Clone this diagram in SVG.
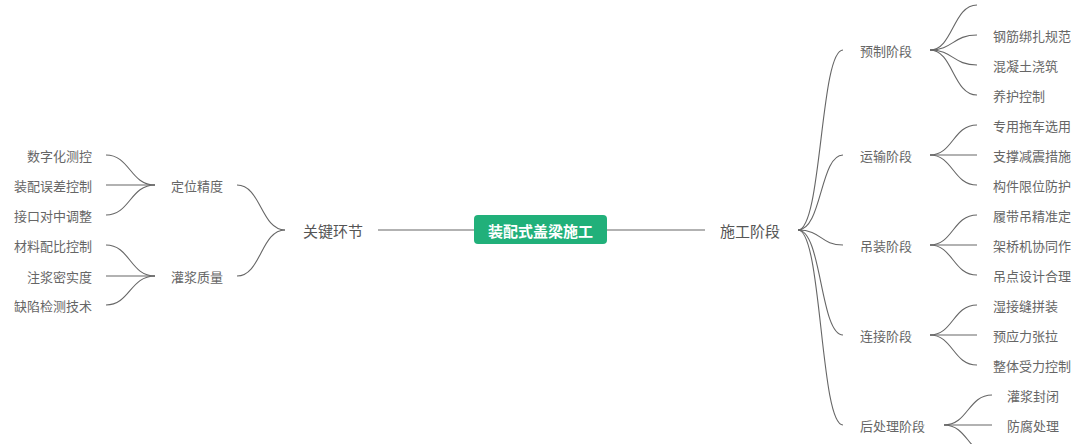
<svg xmlns="http://www.w3.org/2000/svg" width="1071" height="444" viewBox="0 0 1071 444">
<style>
.c{fill:none;stroke:#666;stroke-width:1.1}
.m{fill:none;stroke:#999;stroke-width:1.6}
text{font-family:"Noto Sans CJK SC","Liberation Sans",sans-serif;dominant-baseline:central}
.l1{font-size:15px;fill:#555}
.l2{font-size:13px;fill:#666}
.lf{font-size:13px;fill:#666}
.r{text-anchor:end}
.root{font-size:15px;fill:#fff;font-weight:bold;text-anchor:middle}
</style>
<rect width="1071" height="444" fill="#fff"/>
<g id="connectors">
<path class="m" d="M378,230H474"/>
<path class="m" d="M607,230H705"/>
<path class="c" d="M285,230C261,230 261,185 237,185"/>
<path class="c" d="M285,230C261,230 261,276 237,276"/>
<path class="c" d="M155,185C130,185 130,155 106,155"/>
<path class="c" d="M155,185H106"/>
<path class="c" d="M155,185C130,185 130,215 106,215"/>
<path class="c" d="M155,276C130,276 130,245 106,245"/>
<path class="c" d="M155,276H106"/>
<path class="c" d="M155,276C130,276 130,305 106,305"/>
<path class="c" d="M798,230C822,230 820,50 843,50"/>
<path class="c" d="M798,230C822,230 820,155 843,155"/>
<path class="c" d="M798,230C822,230 820,245 843,245"/>
<path class="c" d="M798,230C822,230 820,335 843,335"/>
<path class="c" d="M798,230C822,230 820,425 843,425"/>
<path class="c" d="M930,50C953,50 953,5 977,5"/>
<path class="c" d="M930,50C953,50 953,35 977,35"/>
<path class="c" d="M930,50C953,50 953,65 977,65"/>
<path class="c" d="M930,50C953,50 953,95 977,95"/>
<path class="c" d="M930,155C953,155 953,125 977,125"/>
<path class="c" d="M930,155H977"/>
<path class="c" d="M930,155C953,155 953,185 977,185"/>
<path class="c" d="M930,245C953,245 953,215 977,215"/>
<path class="c" d="M930,245H977"/>
<path class="c" d="M930,245C953,245 953,275 977,275"/>
<path class="c" d="M930,335C953,335 953,305 977,305"/>
<path class="c" d="M930,335H977"/>
<path class="c" d="M930,335C953,335 953,365 977,365"/>
<path class="c" d="M944,425C968,425 968,395 992,395"/>
<path class="c" d="M944,425H992"/>
<path class="c" d="M944,425C968,425 968,455 992,455"/>
</g>
<g id="root"><rect x="474" y="215" width="133" height="29" rx="4" fill="#21b07a"/><text class="root" x="540.5" y="230">装配式盖梁施工</text></g>
<g id="n-gj"><text class="l1" x="303" y="230">关键环节</text></g>
<g id="n-sg"><text class="l1" x="720" y="230">施工阶段</text></g>
<g id="n-dw"><text class="l2" x="171" y="185">定位精度</text></g>
<g id="n-gz"><text class="l2" x="171" y="276">灌浆质量</text></g>
<g id="l1"><text class="lf r" x="92" y="155">数字化测控</text></g>
<g id="l2"><text class="lf r" x="92" y="185">装配误差控制</text></g>
<g id="l3"><text class="lf r" x="92" y="215">接口对中调整</text></g>
<g id="l4"><text class="lf r" x="92" y="245">材料配比控制</text></g>
<g id="l5"><text class="lf r" x="92" y="276">注浆密实度</text></g>
<g id="l6"><text class="lf r" x="92" y="305">缺陷检测技术</text></g>
<g id="n-yz"><text class="l2" x="860" y="50">预制阶段</text></g>
<g id="n-ys"><text class="l2" x="860" y="155">运输阶段</text></g>
<g id="n-dz"><text class="l2" x="860" y="245">吊装阶段</text></g>
<g id="n-lj"><text class="l2" x="860" y="335">连接阶段</text></g>
<g id="n-hcl"><text class="l2" x="860" y="425">后处理阶段</text></g>
<g id="r1"><text class="lf" x="993" y="35">钢筋绑扎规范</text></g>
<g id="r2"><text class="lf" x="993" y="65">混凝土浇筑</text></g>
<g id="r3"><text class="lf" x="993" y="95">养护控制</text></g>
<g id="r4"><text class="lf" x="993" y="125">专用拖车选用</text></g>
<g id="r5"><text class="lf" x="993" y="155">支撑减震措施</text></g>
<g id="r6"><text class="lf" x="993" y="185">构件限位防护</text></g>
<g id="r7"><text class="lf" x="993" y="215">履带吊精准定</text></g>
<g id="r8"><text class="lf" x="993" y="245">架桥机协同作</text></g>
<g id="r9"><text class="lf" x="993" y="275">吊点设计合理</text></g>
<g id="r10"><text class="lf" x="993" y="305">湿接缝拼装</text></g>
<g id="r11"><text class="lf" x="993" y="335">预应力张拉</text></g>
<g id="r12"><text class="lf" x="993" y="365">整体受力控制</text></g>
<g id="r13"><text class="lf" x="1007" y="395">灌浆封闭</text></g>
<g id="r14"><text class="lf" x="1007" y="425">防腐处理</text></g>
</svg>
